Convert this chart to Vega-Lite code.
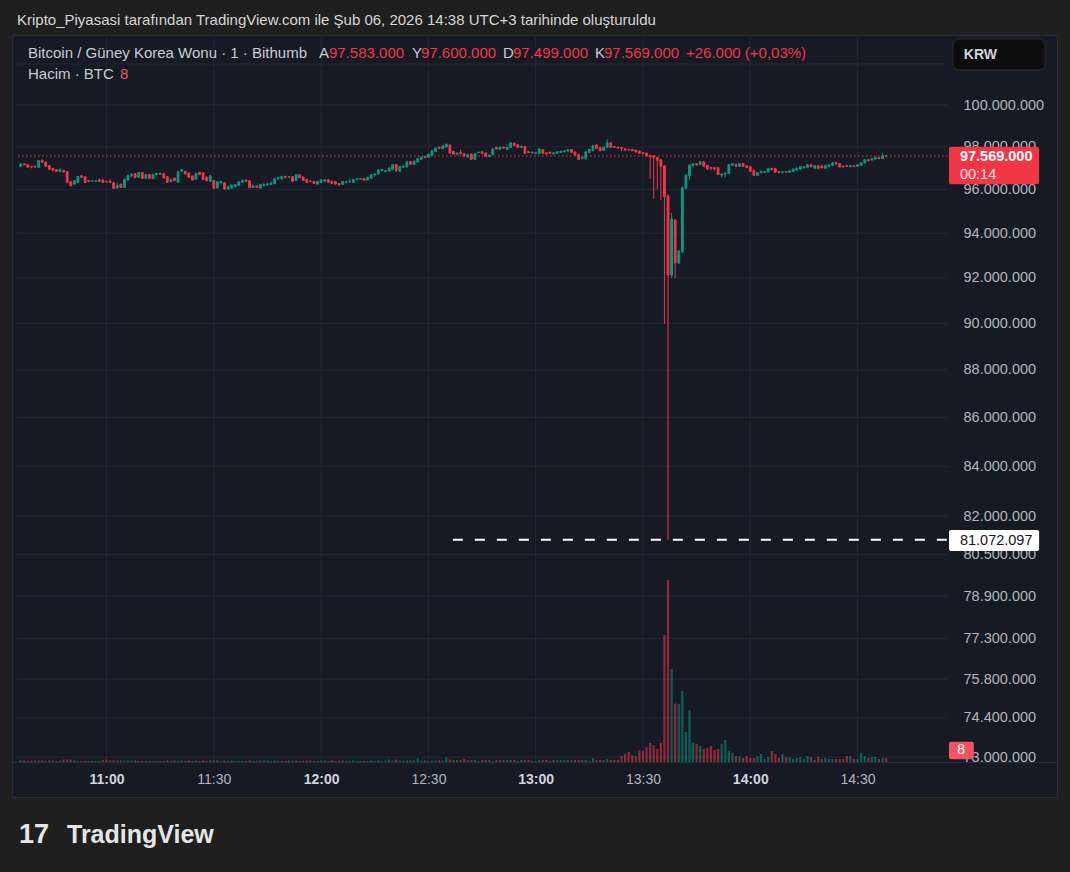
{
"$schema": "https://vega.github.io/schema/vega-lite/v6.json",
"width": 1045,
"height": 762,
"autosize": {"type": "none"},
"padding": {"left": 12, "top": 35, "right": 13, "bottom": 75},
"background": "#1f1f1f",
"config": {"view": {"fill": "#161a25", "stroke": "#2a2e39", "strokeWidth": 1}, "font": "Liberation Sans"},
"datasets": {
"ygrid": [{"p": 73000000}, {"p": 74400000}, {"p": 75800000}, {"p": 77300000}, {"p": 78900000}, {"p": 80500000}, {"p": 82000000}, {"p": 84000000}, {"p": 86000000}, {"p": 88000000}, {"p": 90000000}, {"p": 92000000}, {"p": 94000000}, {"p": 96000000}, {"p": 98000000}, {"p": 100000000}, {"p": 102000000}],
"xgrid": [{"t": "2026-02-06T11:00"}, {"t": "2026-02-06T11:30"}, {"t": "2026-02-06T12:00"}, {"t": "2026-02-06T12:30"}, {"t": "2026-02-06T13:00"}, {"t": "2026-02-06T13:30"}, {"t": "2026-02-06T14:00"}, {"t": "2026-02-06T14:30"}],
"candles": [
{"t":"2026-02-06T10:36","o":97084000,"h":97224000,"l":97068000,"c":97193000,"v":3},
{"t":"2026-02-06T10:37","o":97193000,"h":97224000,"l":97131000,"c":97146000,"v":3},
{"t":"2026-02-06T10:38","o":97162000,"h":97178000,"l":97022000,"c":97037000,"v":3},
{"t":"2026-02-06T10:39","o":97084000,"h":97100000,"l":96990000,"c":97053000,"v":3},
{"t":"2026-02-06T10:40","o":97100000,"h":97115000,"l":96990000,"c":97068000,"v":3},
{"t":"2026-02-06T10:41","o":97037000,"h":97365000,"l":97022000,"c":97349000,"v":3},
{"t":"2026-02-06T10:42","o":97365000,"h":97412000,"l":97256000,"c":97271000,"v":3},
{"t":"2026-02-06T10:43","o":97287000,"h":97302000,"l":97068000,"c":97084000,"v":2},
{"t":"2026-02-06T10:44","o":97115000,"h":97131000,"l":96928000,"c":96944000,"v":3},
{"t":"2026-02-06T10:45","o":96990000,"h":97006000,"l":96881000,"c":96897000,"v":3},
{"t":"2026-02-06T10:46","o":96928000,"h":96944000,"l":96834000,"c":96850000,"v":2},
{"t":"2026-02-06T10:47","o":96850000,"h":96959000,"l":96834000,"c":96944000,"v":3},
{"t":"2026-02-06T10:48","o":96897000,"h":96928000,"l":96803000,"c":96819000,"v":5},
{"t":"2026-02-06T10:49","o":96834000,"h":96850000,"l":96320000,"c":96335000,"v":5},
{"t":"2026-02-06T10:50","o":96366000,"h":96382000,"l":96148000,"c":96179000,"v":5},
{"t":"2026-02-06T10:51","o":96257000,"h":96429000,"l":96242000,"c":96413000,"v":3},
{"t":"2026-02-06T10:52","o":96335000,"h":96632000,"l":96320000,"c":96616000,"v":2},
{"t":"2026-02-06T10:53","o":96647000,"h":96663000,"l":96554000,"c":96569000,"v":2},
{"t":"2026-02-06T10:54","o":96600000,"h":96616000,"l":96320000,"c":96335000,"v":2},
{"t":"2026-02-06T10:55","o":96429000,"h":96444000,"l":96366000,"c":96382000,"v":2},
{"t":"2026-02-06T10:56","o":96382000,"h":96429000,"l":96366000,"c":96413000,"v":2},
{"t":"2026-02-06T10:57","o":96382000,"h":96444000,"l":96366000,"c":96413000,"v":2},
{"t":"2026-02-06T10:58","o":96444000,"h":96507000,"l":96366000,"c":96382000,"v":2},
{"t":"2026-02-06T10:59","o":96429000,"h":96507000,"l":96320000,"c":96335000,"v":4},
{"t":"2026-02-06T11:00","o":96382000,"h":96398000,"l":96335000,"c":96351000,"v":5},
{"t":"2026-02-06T11:01","o":96382000,"h":96476000,"l":96320000,"c":96335000,"v":3},
{"t":"2026-02-06T11:02","o":96320000,"h":96335000,"l":96039000,"c":96054000,"v":3},
{"t":"2026-02-06T11:03","o":96070000,"h":96335000,"l":96054000,"c":96179000,"v":3},
{"t":"2026-02-06T11:04","o":96257000,"h":96273000,"l":96086000,"c":96101000,"v":3},
{"t":"2026-02-06T11:05","o":96101000,"h":96491000,"l":96086000,"c":96476000,"v":3},
{"t":"2026-02-06T11:06","o":96444000,"h":96663000,"l":96429000,"c":96647000,"v":3},
{"t":"2026-02-06T11:07","o":96647000,"h":96756000,"l":96569000,"c":96710000,"v":3},
{"t":"2026-02-06T11:08","o":96741000,"h":96756000,"l":96538000,"c":96554000,"v":3},
{"t":"2026-02-06T11:09","o":96569000,"h":96819000,"l":96554000,"c":96803000,"v":2},
{"t":"2026-02-06T11:10","o":96803000,"h":96819000,"l":96507000,"c":96522000,"v":2},
{"t":"2026-02-06T11:11","o":96522000,"h":96710000,"l":96507000,"c":96694000,"v":2},
{"t":"2026-02-06T11:12","o":96694000,"h":96710000,"l":96507000,"c":96522000,"v":2},
{"t":"2026-02-06T11:13","o":96522000,"h":96725000,"l":96507000,"c":96710000,"v":2},
{"t":"2026-02-06T11:14","o":96694000,"h":96772000,"l":96678000,"c":96756000,"v":2},
{"t":"2026-02-06T11:15","o":96710000,"h":96788000,"l":96694000,"c":96756000,"v":2},
{"t":"2026-02-06T11:16","o":96741000,"h":96756000,"l":96522000,"c":96538000,"v":2},
{"t":"2026-02-06T11:17","o":96600000,"h":96616000,"l":96320000,"c":96335000,"v":3},
{"t":"2026-02-06T11:18","o":96382000,"h":96538000,"l":96335000,"c":96460000,"v":2},
{"t":"2026-02-06T11:19","o":96538000,"h":96554000,"l":96398000,"c":96413000,"v":3},
{"t":"2026-02-06T11:20","o":96335000,"h":96850000,"l":96320000,"c":96834000,"v":2},
{"t":"2026-02-06T11:21","o":96850000,"h":96944000,"l":96834000,"c":96928000,"v":3},
{"t":"2026-02-06T11:22","o":96850000,"h":96866000,"l":96710000,"c":96725000,"v":2},
{"t":"2026-02-06T11:23","o":96772000,"h":96788000,"l":96554000,"c":96569000,"v":3},
{"t":"2026-02-06T11:24","o":96632000,"h":96647000,"l":96429000,"c":96444000,"v":2},
{"t":"2026-02-06T11:25","o":96476000,"h":96772000,"l":96460000,"c":96756000,"v":3},
{"t":"2026-02-06T11:26","o":96803000,"h":96819000,"l":96678000,"c":96694000,"v":2},
{"t":"2026-02-06T11:27","o":96788000,"h":96803000,"l":96460000,"c":96476000,"v":3},
{"t":"2026-02-06T11:28","o":96585000,"h":96600000,"l":96398000,"c":96413000,"v":2},
{"t":"2026-02-06T11:29","o":96382000,"h":96663000,"l":96366000,"c":96647000,"v":3},
{"t":"2026-02-06T11:30","o":96429000,"h":96444000,"l":96039000,"c":96054000,"v":3},
{"t":"2026-02-06T11:31","o":96070000,"h":96382000,"l":96054000,"c":96366000,"v":3},
{"t":"2026-02-06T11:32","o":96304000,"h":96398000,"l":96288000,"c":96382000,"v":2},
{"t":"2026-02-06T11:33","o":96320000,"h":96335000,"l":96008000,"c":96023000,"v":3},
{"t":"2026-02-06T11:34","o":96023000,"h":96148000,"l":96008000,"c":96132000,"v":3},
{"t":"2026-02-06T11:35","o":96070000,"h":96226000,"l":96054000,"c":96210000,"v":3},
{"t":"2026-02-06T11:36","o":96132000,"h":96242000,"l":96117000,"c":96226000,"v":2},
{"t":"2026-02-06T11:37","o":96195000,"h":96382000,"l":96179000,"c":96366000,"v":2},
{"t":"2026-02-06T11:38","o":96335000,"h":96491000,"l":96320000,"c":96413000,"v":2},
{"t":"2026-02-06T11:39","o":96444000,"h":96460000,"l":96366000,"c":96382000,"v":2},
{"t":"2026-02-06T11:40","o":96413000,"h":96429000,"l":96070000,"c":96086000,"v":3},
{"t":"2026-02-06T11:41","o":96101000,"h":96195000,"l":96086000,"c":96179000,"v":2},
{"t":"2026-02-06T11:42","o":96164000,"h":96179000,"l":96086000,"c":96101000,"v":2},
{"t":"2026-02-06T11:43","o":96070000,"h":96257000,"l":96054000,"c":96242000,"v":3},
{"t":"2026-02-06T11:44","o":96179000,"h":96304000,"l":96164000,"c":96226000,"v":3},
{"t":"2026-02-06T11:45","o":96210000,"h":96288000,"l":96195000,"c":96273000,"v":3},
{"t":"2026-02-06T11:46","o":96242000,"h":96366000,"l":96226000,"c":96304000,"v":2},
{"t":"2026-02-06T11:47","o":96273000,"h":96522000,"l":96257000,"c":96507000,"v":3},
{"t":"2026-02-06T11:48","o":96491000,"h":96569000,"l":96476000,"c":96554000,"v":2},
{"t":"2026-02-06T11:49","o":96491000,"h":96632000,"l":96476000,"c":96616000,"v":2},
{"t":"2026-02-06T11:50","o":96616000,"h":96632000,"l":96522000,"c":96569000,"v":2},
{"t":"2026-02-06T11:51","o":96569000,"h":96616000,"l":96554000,"c":96600000,"v":3},
{"t":"2026-02-06T11:52","o":96600000,"h":96616000,"l":96366000,"c":96382000,"v":3},
{"t":"2026-02-06T11:53","o":96429000,"h":96710000,"l":96413000,"c":96694000,"v":3},
{"t":"2026-02-06T11:54","o":96694000,"h":96710000,"l":96538000,"c":96554000,"v":2},
{"t":"2026-02-06T11:55","o":96585000,"h":96600000,"l":96413000,"c":96429000,"v":2},
{"t":"2026-02-06T11:56","o":96476000,"h":96491000,"l":96320000,"c":96335000,"v":3},
{"t":"2026-02-06T11:57","o":96398000,"h":96413000,"l":96351000,"c":96366000,"v":3},
{"t":"2026-02-06T11:58","o":96382000,"h":96398000,"l":96273000,"c":96288000,"v":2},
{"t":"2026-02-06T11:59","o":96257000,"h":96398000,"l":96242000,"c":96382000,"v":2},
{"t":"2026-02-06T12:00","o":96335000,"h":96476000,"l":96320000,"c":96460000,"v":3},
{"t":"2026-02-06T12:01","o":96382000,"h":96476000,"l":96366000,"c":96460000,"v":3},
{"t":"2026-02-06T12:02","o":96460000,"h":96476000,"l":96320000,"c":96335000,"v":2},
{"t":"2026-02-06T12:03","o":96382000,"h":96398000,"l":96273000,"c":96288000,"v":3},
{"t":"2026-02-06T12:04","o":96366000,"h":96382000,"l":96242000,"c":96257000,"v":2},
{"t":"2026-02-06T12:05","o":96288000,"h":96304000,"l":96179000,"c":96210000,"v":3},
{"t":"2026-02-06T12:06","o":96242000,"h":96398000,"l":96226000,"c":96382000,"v":3},
{"t":"2026-02-06T12:07","o":96335000,"h":96382000,"l":96273000,"c":96366000,"v":2},
{"t":"2026-02-06T12:08","o":96351000,"h":96507000,"l":96335000,"c":96382000,"v":2},
{"t":"2026-02-06T12:09","o":96335000,"h":96476000,"l":96320000,"c":96460000,"v":3},
{"t":"2026-02-06T12:10","o":96476000,"h":96522000,"l":96460000,"c":96507000,"v":2},
{"t":"2026-02-06T12:11","o":96476000,"h":96522000,"l":96460000,"c":96507000,"v":2},
{"t":"2026-02-06T12:12","o":96522000,"h":96538000,"l":96413000,"c":96429000,"v":2},
{"t":"2026-02-06T12:13","o":96444000,"h":96585000,"l":96429000,"c":96569000,"v":2},
{"t":"2026-02-06T12:14","o":96522000,"h":96710000,"l":96507000,"c":96694000,"v":3},
{"t":"2026-02-06T12:15","o":96678000,"h":96741000,"l":96585000,"c":96725000,"v":2},
{"t":"2026-02-06T12:16","o":96725000,"h":96928000,"l":96710000,"c":96912000,"v":3},
{"t":"2026-02-06T12:17","o":96881000,"h":96959000,"l":96866000,"c":96944000,"v":2},
{"t":"2026-02-06T12:18","o":96834000,"h":96897000,"l":96819000,"c":96881000,"v":3},
{"t":"2026-02-06T12:19","o":96866000,"h":97022000,"l":96850000,"c":97006000,"v":5},
{"t":"2026-02-06T12:20","o":96944000,"h":97178000,"l":96928000,"c":97162000,"v":3},
{"t":"2026-02-06T12:21","o":97162000,"h":97178000,"l":96819000,"c":96897000,"v":5},
{"t":"2026-02-06T12:22","o":96850000,"h":97084000,"l":96834000,"c":97068000,"v":3},
{"t":"2026-02-06T12:23","o":97037000,"h":97115000,"l":97022000,"c":97100000,"v":3},
{"t":"2026-02-06T12:24","o":97053000,"h":97318000,"l":97037000,"c":97302000,"v":3},
{"t":"2026-02-06T12:25","o":97302000,"h":97318000,"l":97162000,"c":97178000,"v":3},
{"t":"2026-02-06T12:26","o":97178000,"h":97349000,"l":97162000,"c":97334000,"v":3},
{"t":"2026-02-06T12:27","o":97287000,"h":97458000,"l":97271000,"c":97443000,"v":7},
{"t":"2026-02-06T12:28","o":97412000,"h":97536000,"l":97396000,"c":97521000,"v":3},
{"t":"2026-02-06T12:29","o":97552000,"h":97568000,"l":97458000,"c":97505000,"v":3},
{"t":"2026-02-06T12:30","o":97505000,"h":97661000,"l":97490000,"c":97646000,"v":2},
{"t":"2026-02-06T12:31","o":97599000,"h":97833000,"l":97583000,"c":97817000,"v":3},
{"t":"2026-02-06T12:32","o":97786000,"h":97958000,"l":97770000,"c":97942000,"v":3},
{"t":"2026-02-06T12:33","o":97989000,"h":98004000,"l":97911000,"c":97926000,"v":3},
{"t":"2026-02-06T12:34","o":97911000,"h":98067000,"l":97895000,"c":98051000,"v":3},
{"t":"2026-02-06T12:35","o":97989000,"h":98145000,"l":97973000,"c":98129000,"v":9},
{"t":"2026-02-06T12:36","o":98082000,"h":98129000,"l":97692000,"c":97708000,"v":5},
{"t":"2026-02-06T12:37","o":97786000,"h":97802000,"l":97646000,"c":97661000,"v":4},
{"t":"2026-02-06T12:38","o":97661000,"h":97724000,"l":97599000,"c":97708000,"v":4},
{"t":"2026-02-06T12:39","o":97739000,"h":97864000,"l":97599000,"c":97692000,"v":4},
{"t":"2026-02-06T12:40","o":97677000,"h":97692000,"l":97505000,"c":97599000,"v":6},
{"t":"2026-02-06T12:41","o":97536000,"h":97646000,"l":97474000,"c":97630000,"v":4},
{"t":"2026-02-06T12:42","o":97661000,"h":97677000,"l":97396000,"c":97412000,"v":4},
{"t":"2026-02-06T12:43","o":97412000,"h":97692000,"l":97396000,"c":97677000,"v":4},
{"t":"2026-02-06T12:44","o":97724000,"h":97770000,"l":97708000,"c":97755000,"v":2},
{"t":"2026-02-06T12:45","o":97770000,"h":97786000,"l":97677000,"c":97692000,"v":4},
{"t":"2026-02-06T12:46","o":97708000,"h":97724000,"l":97536000,"c":97552000,"v":4},
{"t":"2026-02-06T12:47","o":97552000,"h":97630000,"l":97505000,"c":97614000,"v":4},
{"t":"2026-02-06T12:48","o":97630000,"h":97926000,"l":97614000,"c":97911000,"v":2},
{"t":"2026-02-06T12:49","o":97973000,"h":98020000,"l":97880000,"c":97895000,"v":4},
{"t":"2026-02-06T12:50","o":97880000,"h":98004000,"l":97864000,"c":97989000,"v":4},
{"t":"2026-02-06T12:51","o":97989000,"h":98004000,"l":97926000,"c":97942000,"v":4},
{"t":"2026-02-06T12:52","o":97880000,"h":98004000,"l":97864000,"c":97989000,"v":4},
{"t":"2026-02-06T12:53","o":97973000,"h":98207000,"l":97958000,"c":98192000,"v":4},
{"t":"2026-02-06T12:54","o":98176000,"h":98192000,"l":98051000,"c":98067000,"v":4},
{"t":"2026-02-06T12:55","o":98098000,"h":98114000,"l":97958000,"c":97973000,"v":2},
{"t":"2026-02-06T12:56","o":97973000,"h":98051000,"l":97958000,"c":98036000,"v":4},
{"t":"2026-02-06T12:57","o":98020000,"h":98036000,"l":97677000,"c":97692000,"v":4},
{"t":"2026-02-06T12:58","o":97770000,"h":97786000,"l":97724000,"c":97739000,"v":4},
{"t":"2026-02-06T12:59","o":97708000,"h":97786000,"l":97692000,"c":97739000,"v":2},
{"t":"2026-02-06T13:00","o":97692000,"h":97755000,"l":97677000,"c":97739000,"v":2},
{"t":"2026-02-06T13:01","o":97692000,"h":97926000,"l":97677000,"c":97911000,"v":4},
{"t":"2026-02-06T13:02","o":97880000,"h":97895000,"l":97677000,"c":97692000,"v":4},
{"t":"2026-02-06T13:03","o":97724000,"h":97739000,"l":97614000,"c":97677000,"v":4},
{"t":"2026-02-06T13:04","o":97755000,"h":97770000,"l":97677000,"c":97692000,"v":2},
{"t":"2026-02-06T13:05","o":97661000,"h":97739000,"l":97646000,"c":97724000,"v":4},
{"t":"2026-02-06T13:06","o":97692000,"h":97786000,"l":97677000,"c":97770000,"v":4},
{"t":"2026-02-06T13:07","o":97739000,"h":97817000,"l":97724000,"c":97802000,"v":4},
{"t":"2026-02-06T13:08","o":97770000,"h":97833000,"l":97739000,"c":97817000,"v":4},
{"t":"2026-02-06T13:09","o":97802000,"h":97880000,"l":97786000,"c":97864000,"v":4},
{"t":"2026-02-06T13:10","o":97880000,"h":97895000,"l":97724000,"c":97739000,"v":4},
{"t":"2026-02-06T13:11","o":97755000,"h":97770000,"l":97599000,"c":97614000,"v":4},
{"t":"2026-02-06T13:12","o":97630000,"h":97646000,"l":97396000,"c":97412000,"v":4},
{"t":"2026-02-06T13:13","o":97443000,"h":97536000,"l":97412000,"c":97521000,"v":4},
{"t":"2026-02-06T13:14","o":97443000,"h":97786000,"l":97427000,"c":97770000,"v":4},
{"t":"2026-02-06T13:15","o":97739000,"h":97895000,"l":97724000,"c":97880000,"v":2},
{"t":"2026-02-06T13:16","o":97817000,"h":98082000,"l":97802000,"c":98067000,"v":8},
{"t":"2026-02-06T13:17","o":98082000,"h":98129000,"l":97911000,"c":97926000,"v":4},
{"t":"2026-02-06T13:18","o":97973000,"h":97989000,"l":97802000,"c":97817000,"v":4},
{"t":"2026-02-06T13:19","o":97833000,"h":98004000,"l":97817000,"c":97989000,"v":4},
{"t":"2026-02-06T13:20","o":97973000,"h":98348000,"l":97958000,"c":98192000,"v":6},
{"t":"2026-02-06T13:21","o":98192000,"h":98207000,"l":97958000,"c":97973000,"v":4},
{"t":"2026-02-06T13:22","o":98020000,"h":98036000,"l":97958000,"c":97973000,"v":4},
{"t":"2026-02-06T13:23","o":97989000,"h":98004000,"l":97926000,"c":97942000,"v":4},
{"t":"2026-02-06T13:24","o":97973000,"h":97989000,"l":97802000,"c":97926000,"v":12},
{"t":"2026-02-06T13:25","o":97911000,"h":97926000,"l":97786000,"c":97864000,"v":16},
{"t":"2026-02-06T13:26","o":97880000,"h":97895000,"l":97833000,"c":97848000,"v":20},
{"t":"2026-02-06T13:27","o":97880000,"h":97911000,"l":97802000,"c":97817000,"v":14},
{"t":"2026-02-06T13:28","o":97848000,"h":97864000,"l":97739000,"c":97755000,"v":12},
{"t":"2026-02-06T13:29","o":97802000,"h":97817000,"l":97677000,"c":97692000,"v":24},
{"t":"2026-02-06T13:30","o":97724000,"h":97739000,"l":97661000,"c":97677000,"v":22},
{"t":"2026-02-06T13:31","o":97708000,"h":97724000,"l":97552000,"c":97568000,"v":30},
{"t":"2026-02-06T13:32","o":97599000,"h":97614000,"l":96490000,"c":97521000,"v":38},
{"t":"2026-02-06T13:33","o":97583000,"h":97599000,"l":95560000,"c":97490000,"v":34},
{"t":"2026-02-06T13:34","o":97505000,"h":97521000,"l":96010000,"c":97365000,"v":26},
{"t":"2026-02-06T13:35","o":97396000,"h":97412000,"l":95520000,"c":97084000,"v":38},
{"t":"2026-02-06T13:36","o":97100000,"h":97150000,"l":89980000,"c":95670000,"v":254},
{"t":"2026-02-06T13:37","o":95700000,"h":95800000,"l":81072097,"c":92120000,"v":364},
{"t":"2026-02-06T13:38","o":92120000,"h":94930000,"l":91980000,"c":94650000,"v":186},
{"t":"2026-02-06T13:39","o":94600000,"h":94650000,"l":92000000,"c":92660000,"v":117},
{"t":"2026-02-06T13:40","o":92660000,"h":93250000,"l":92600000,"c":93200000,"v":116},
{"t":"2026-02-06T13:41","o":93170000,"h":96150000,"l":93100000,"c":96090000,"v":142},
{"t":"2026-02-06T13:42","o":96060000,"h":96700000,"l":96010000,"c":96680000,"v":60},
{"t":"2026-02-06T13:43","o":96650000,"h":97180000,"l":96450000,"c":97150000,"v":104},
{"t":"2026-02-06T13:44","o":97115000,"h":97224000,"l":97037000,"c":97209000,"v":38},
{"t":"2026-02-06T13:45","o":97209000,"h":97224000,"l":97100000,"c":97162000,"v":36},
{"t":"2026-02-06T13:46","o":97162000,"h":97318000,"l":97146000,"c":97302000,"v":32},
{"t":"2026-02-06T13:47","o":97302000,"h":97318000,"l":97068000,"c":97084000,"v":26},
{"t":"2026-02-06T13:48","o":97131000,"h":97146000,"l":96912000,"c":96959000,"v":28},
{"t":"2026-02-06T13:49","o":97037000,"h":97053000,"l":96897000,"c":96990000,"v":32},
{"t":"2026-02-06T13:50","o":97022000,"h":97037000,"l":96881000,"c":96975000,"v":24},
{"t":"2026-02-06T13:51","o":97022000,"h":97037000,"l":96678000,"c":96694000,"v":26},
{"t":"2026-02-06T13:52","o":96678000,"h":96741000,"l":96569000,"c":96725000,"v":36},
{"t":"2026-02-06T13:53","o":96725000,"h":96788000,"l":96569000,"c":96772000,"v":44},
{"t":"2026-02-06T13:54","o":96756000,"h":97178000,"l":96741000,"c":97162000,"v":22},
{"t":"2026-02-06T13:55","o":97131000,"h":97224000,"l":97115000,"c":97209000,"v":18},
{"t":"2026-02-06T13:56","o":97162000,"h":97224000,"l":97068000,"c":97084000,"v":12},
{"t":"2026-02-06T13:57","o":97084000,"h":97224000,"l":97068000,"c":97209000,"v":12},
{"t":"2026-02-06T13:58","o":97209000,"h":97224000,"l":97068000,"c":97084000,"v":8},
{"t":"2026-02-06T13:59","o":97115000,"h":97131000,"l":97006000,"c":97022000,"v":12},
{"t":"2026-02-06T14:00","o":97068000,"h":97084000,"l":96834000,"c":96850000,"v":8},
{"t":"2026-02-06T14:01","o":96897000,"h":96912000,"l":96647000,"c":96663000,"v":8},
{"t":"2026-02-06T14:02","o":96663000,"h":96803000,"l":96647000,"c":96788000,"v":12},
{"t":"2026-02-06T14:03","o":96788000,"h":96881000,"l":96772000,"c":96850000,"v":16},
{"t":"2026-02-06T14:04","o":96788000,"h":96850000,"l":96772000,"c":96834000,"v":6},
{"t":"2026-02-06T14:05","o":96819000,"h":97006000,"l":96803000,"c":96990000,"v":10},
{"t":"2026-02-06T14:06","o":96990000,"h":97006000,"l":96897000,"c":96928000,"v":22},
{"t":"2026-02-06T14:07","o":96975000,"h":96990000,"l":96788000,"c":96803000,"v":16},
{"t":"2026-02-06T14:08","o":96834000,"h":96850000,"l":96756000,"c":96803000,"v":8},
{"t":"2026-02-06T14:09","o":96803000,"h":96850000,"l":96741000,"c":96834000,"v":16},
{"t":"2026-02-06T14:10","o":96834000,"h":96850000,"l":96788000,"c":96803000,"v":10},
{"t":"2026-02-06T14:11","o":96803000,"h":96897000,"l":96788000,"c":96881000,"v":10},
{"t":"2026-02-06T14:12","o":96850000,"h":96975000,"l":96834000,"c":96959000,"v":6},
{"t":"2026-02-06T14:13","o":96912000,"h":97022000,"l":96866000,"c":97006000,"v":8},
{"t":"2026-02-06T14:14","o":96959000,"h":97084000,"l":96944000,"c":97068000,"v":10},
{"t":"2026-02-06T14:15","o":97006000,"h":97084000,"l":96990000,"c":97068000,"v":6},
{"t":"2026-02-06T14:16","o":97037000,"h":97178000,"l":97022000,"c":97162000,"v":12},
{"t":"2026-02-06T14:17","o":97162000,"h":97209000,"l":97053000,"c":97068000,"v":10},
{"t":"2026-02-06T14:18","o":96990000,"h":97131000,"l":96975000,"c":97115000,"v":4},
{"t":"2026-02-06T14:19","o":97115000,"h":97131000,"l":96975000,"c":96990000,"v":10},
{"t":"2026-02-06T14:20","o":97100000,"h":97162000,"l":96990000,"c":97006000,"v":6},
{"t":"2026-02-06T14:21","o":96990000,"h":97146000,"l":96975000,"c":97131000,"v":8},
{"t":"2026-02-06T14:22","o":97068000,"h":97178000,"l":97053000,"c":97162000,"v":6},
{"t":"2026-02-06T14:23","o":97131000,"h":97271000,"l":97115000,"c":97256000,"v":6},
{"t":"2026-02-06T14:24","o":97256000,"h":97271000,"l":97178000,"c":97193000,"v":6},
{"t":"2026-02-06T14:25","o":97209000,"h":97224000,"l":97037000,"c":97053000,"v":6},
{"t":"2026-02-06T14:26","o":97100000,"h":97115000,"l":97037000,"c":97053000,"v":6},
{"t":"2026-02-06T14:27","o":97115000,"h":97131000,"l":97068000,"c":97084000,"v":12},
{"t":"2026-02-06T14:28","o":97068000,"h":97131000,"l":97053000,"c":97115000,"v":12},
{"t":"2026-02-06T14:29","o":97115000,"h":97131000,"l":97068000,"c":97084000,"v":6},
{"t":"2026-02-06T14:30","o":97084000,"h":97178000,"l":97068000,"c":97162000,"v":6},
{"t":"2026-02-06T14:31","o":97131000,"h":97271000,"l":97115000,"c":97256000,"v":18},
{"t":"2026-02-06T14:32","o":97240000,"h":97412000,"l":97224000,"c":97396000,"v":12},
{"t":"2026-02-06T14:33","o":97396000,"h":97412000,"l":97318000,"c":97349000,"v":8},
{"t":"2026-02-06T14:34","o":97380000,"h":97458000,"l":97349000,"c":97443000,"v":10},
{"t":"2026-02-06T14:35","o":97427000,"h":97536000,"l":97412000,"c":97505000,"v":10},
{"t":"2026-02-06T14:36","o":97490000,"h":97505000,"l":97427000,"c":97443000,"v":6},
{"t":"2026-02-06T14:37","o":97443000,"h":97724000,"l":97427000,"c":97583000,"v":8},
{"t":"2026-02-06T14:38","o":97583000,"h":97600000,"l":97499000,"c":97569000,"v":8}
]
},
"layer": [
{
"layer": [
{"data": {"name": "xgrid"}, "mark": {"type": "rule", "color": "#242834", "strokeWidth": 1},
 "encoding": {
  "x": {"field": "t", "type": "temporal", "scale": {"nice": false, "domain": [{"year": 2026, "month": 2, "date": 6, "hours": 10, "minutes": 34, "seconds": 58}, {"year": 2026, "month": 2, "date": 6, "hours": 15, "minutes": 24, "seconds": 22}]}},
  "y": {"datum": 103436000, "type": "quantitative", "scale": {"type": "log", "domain": [71610000, 103436000], "nice": false}, "axis": null},
  "y2": {"datum": 72830000}}},
{"data": {"name": "ygrid"}, "mark": {"type": "rule", "color": "#242834", "strokeWidth": 1},
 "encoding": {
  "y": {"field": "p", "type": "quantitative", "axis": null},
  "x": {"datum": {"year": 2026, "month": 2, "date": 6, "hours": 10, "minutes": 34, "seconds": 58}, "type": "temporal"},
  "x2": {"datum": {"year": 2026, "month": 2, "date": 6, "hours": 14, "minutes": 55, "seconds": 1}}}}
]
},
{
"data": {"name": "candles"},
"mark": {"type": "bar", "width": 2.2, "opacity": 0.55},
"encoding": {
 "x": {"field": "t", "type": "temporal"},
 "y": {"field": "v", "type": "quantitative", "scale": {"domain": [-70, 1454], "nice": false, "zero": false}, "axis": null},
 "y2": {"datum": 0},
 "color": {"condition": {"test": "datum.c >= datum.o", "value": "#089981"}, "value": "#f23645"}
}
},
{
"layer": [
{"data": {"name": "candles"}, "mark": {"type": "rule", "strokeWidth": 1},
 "encoding": {
  "x": {"field": "t", "type": "temporal",
   "scale": {"nice": false, "domain": [{"year": 2026, "month": 2, "date": 6, "hours": 10, "minutes": 34, "seconds": 58}, {"year": 2026, "month": 2, "date": 6, "hours": 15, "minutes": 24, "seconds": 22}]},
   "axis": {"orient": "bottom", "offset": -35, "title": "", "format": "%H:%M", "formatType": "time",
    "values": [
     {"year": 2026, "month": 2, "date": 6, "hours": 11, "minutes": 0},
     {"year": 2026, "month": 2, "date": 6, "hours": 11, "minutes": 30},
     {"year": 2026, "month": 2, "date": 6, "hours": 12, "minutes": 0},
     {"year": 2026, "month": 2, "date": 6, "hours": 12, "minutes": 30},
     {"year": 2026, "month": 2, "date": 6, "hours": 13, "minutes": 0},
     {"year": 2026, "month": 2, "date": 6, "hours": 13, "minutes": 30},
     {"year": 2026, "month": 2, "date": 6, "hours": 14, "minutes": 0},
     {"year": 2026, "month": 2, "date": 6, "hours": 14, "minutes": 30}],
    "grid": false, "ticks": false, "domain": true, "domainColor": "#2a2e39", "labelFontSize": 14, "labelPadding": 10, "labelFlush": false, "labelOverlap": false,
    "labelColor": {"condition": {"test": "minutes(datum.value) === 0", "value": "#d1d4dc"}, "value": "#b2b5be"},
    "labelFontWeight": {"condition": {"test": "minutes(datum.value) === 0", "value": "bold"}, "value": "normal"}}},
  "y": {"field": "l", "type": "quantitative", "scale": {"type": "log", "domain": [71610000, 103436000], "nice": false},
   "axis": {"orient": "right", "offset": -106, "title": "", "grid": false, "ticks": false, "domain": false,
    "values": [73000000, 74400000, 75800000, 77300000, 78900000, 80500000, 82000000, 84000000, 86000000, 88000000, 90000000, 92000000, 94000000, 96000000, 98000000, 100000000],
    "labelExpr": "replace(format(datum.value, ',.0f'), regexp(',', 'g'), '.')",
    "labelColor": "#b2b5be", "labelFontSize": 14.5, "labelPadding": 12, "labelOverlap": false, "labelFlush": false}},
  "y2": {"field": "h"},
  "color": {"condition": {"test": "datum.c >= datum.o", "value": "#089981"}, "value": "#f23645"}}},
{"data": {"name": "candles"}, "mark": {"type": "bar", "width": 1.8, "strokeWidth": 1},
 "encoding": {
  "x": {"field": "t", "type": "temporal"},
  "y": {"field": "o", "type": "quantitative"},
  "y2": {"field": "c"},
  "color": {"condition": {"test": "datum.c >= datum.o", "value": "#089981"}, "value": "#f23645"},
  "stroke": {"condition": {"test": "datum.c >= datum.o", "value": "#089981"}, "value": "#f23645"}}},
{"data": {"values": [{}]}, "mark": {"type": "rule", "color": "#f23645", "strokeWidth": 1, "strokeDash": [1.5, 2.5]},
 "encoding": {
  "x": {"datum": {"year": 2026, "month": 2, "date": 6, "hours": 10, "minutes": 35, "seconds": 15}, "type": "temporal"},
  "x2": {"datum": {"year": 2026, "month": 2, "date": 6, "hours": 14, "minutes": 55, "seconds": 34}},
  "y": {"datum": 97569000, "type": "quantitative"}}},
{"data": {"values": [{}]}, "mark": {"type": "rule", "color": "#ffffff", "strokeWidth": 2, "strokeDash": [10, 12]},
 "encoding": {
  "x": {"datum": {"year": 2026, "month": 2, "date": 6, "hours": 12, "minutes": 36, "seconds": 50}, "type": "temporal"},
  "x2": {"datum": {"year": 2026, "month": 2, "date": 6, "hours": 14, "minutes": 55, "seconds": 1}},
  "y": {"datum": 81072097, "type": "quantitative"}}},
{"data": {"values": [{}]}, "mark": {"type": "rect", "fill": "#0c0c0c", "stroke": "#2e2e2e", "strokeWidth": 1, "cornerRadius": 6},
 "encoding": {
  "x": {"datum": {"year": 2026, "month": 2, "date": 6, "hours": 14, "minutes": 56, "seconds": 40}, "type": "temporal"},
  "x2": {"datum": {"year": 2026, "month": 2, "date": 6, "hours": 15, "minutes": 22, "seconds": 26}},
  "y": {"datum": 103237000, "type": "quantitative"},
  "y2": {"datum": 101704000}}},
{"data": {"values": [{}]}, "mark": {"type": "rect", "fill": "#f23645", "cornerRadius": 2},
 "encoding": {
  "x": {"datum": {"year": 2026, "month": 2, "date": 6, "hours": 14, "minutes": 55, "seconds": 34}, "type": "temporal"},
  "x2": {"datum": {"year": 2026, "month": 2, "date": 6, "hours": 15, "minutes": 20, "seconds": 46}},
  "y": {"datum": 98008000, "type": "quantitative"},
  "y2": {"datum": 96245000}}},
{"data": {"values": [{}]}, "mark": {"type": "rect", "fill": "#ffffff", "cornerRadius": 2},
 "encoding": {
  "x": {"datum": {"year": 2026, "month": 2, "date": 6, "hours": 14, "minutes": 55, "seconds": 34}, "type": "temporal"},
  "x2": {"datum": {"year": 2026, "month": 2, "date": 6, "hours": 15, "minutes": 20, "seconds": 46}},
  "y": {"datum": 81454000, "type": "quantitative"},
  "y2": {"datum": 80633000}}},
{"data": {"values": [{}]}, "mark": {"type": "rect", "fill": "#f7525f", "cornerRadius": 2},
 "encoding": {
  "x": {"datum": {"year": 2026, "month": 2, "date": 6, "hours": 14, "minutes": 55, "seconds": 34}, "type": "temporal"},
  "x2": {"datum": {"year": 2026, "month": 2, "date": 6, "hours": 15, "minutes": 2, "seconds": 30}},
  "y": {"datum": 73547000, "type": "quantitative"},
  "y2": {"datum": 72924000}}},
{"data": {"values": [{}]}, "mark": {"type": "text", "text": "KRW", "align": "left", "baseline": "middle", "fontSize": 14, "fontWeight": "bold", "color": "#d1d4dc"},
 "encoding": {
  "x": {"datum": {"year": 2026, "month": 2, "date": 6, "hours": 14, "minutes": 59, "seconds": 43}, "type": "temporal"},
  "y": {"datum": 102443000, "type": "quantitative"}}},
{"data": {"values": [{}]}, "mark": {"type": "text", "text": "97.569.000", "align": "left", "baseline": "middle", "fontSize": 14.5, "fontWeight": "bold", "color": "#ffffff"},
 "encoding": {
  "x": {"datum": {"year": 2026, "month": 2, "date": 6, "hours": 14, "minutes": 58, "seconds": 37}, "type": "temporal"},
  "y": {"datum": 97521000, "type": "quantitative"}}},
{"data": {"values": [{}]}, "mark": {"type": "text", "text": "00:14", "align": "left", "baseline": "middle", "fontSize": 14.5, "color": "#fbe3e5"},
 "encoding": {
  "x": {"datum": {"year": 2026, "month": 2, "date": 6, "hours": 14, "minutes": 58, "seconds": 37}, "type": "temporal"},
  "y": {"datum": 96678000, "type": "quantitative"}}},
{"data": {"values": [{}]}, "mark": {"type": "text", "text": "81.072.097", "align": "left", "baseline": "middle", "fontSize": 14.5, "color": "#131722"},
 "encoding": {
  "x": {"datum": {"year": 2026, "month": 2, "date": 6, "hours": 14, "minutes": 58, "seconds": 37}, "type": "temporal"},
  "y": {"datum": 81030000, "type": "quantitative"}}},
{"data": {"values": [{}]}, "mark": {"type": "text", "text": "8", "align": "center", "baseline": "middle", "fontSize": 14, "color": "#ffffff"},
 "encoding": {
  "x": {"datum": {"year": 2026, "month": 2, "date": 6, "hours": 14, "minutes": 58, "seconds": 57}, "type": "temporal"},
  "y": {"datum": 73252000, "type": "quantitative"}}},
{"data": {"values": [{}]}, "mark": {"type": "text", "text": "Kripto_Piyasasi tarafından TradingView.com ile Şub 06, 2026 14:38 UTC+3 tarihinde oluşturuldu", "align": "left", "baseline": "middle", "fontSize": 15, "color": "#d6d6d6"},
 "encoding": {
  "x": {"datum": {"year": 2026, "month": 2, "date": 6, "hours": 10, "minutes": 34, "seconds": 58}, "type": "temporal"},
  "y": {"datum": 104190000, "type": "quantitative"}}},
{"data": {"values": [{}]}, "mark": {"type": "text", "text": "Bitcoin / Güney Korea Wonu · 1 · Bithumb", "align": "left", "baseline": "middle", "fontSize": 15, "dx": 11, "color": "#c9cbd1"},
 "encoding": {
  "x": {"datum": {"year": 2026, "month": 2, "date": 6, "hours": 10, "minutes": 34, "seconds": 58}, "type": "temporal"},
  "y": {"datum": 102542000, "type": "quantitative"}}},
{"data": {"values": [{}]}, "mark": {"type": "text", "text": "A", "align": "left", "baseline": "middle", "fontSize": 15, "dx": 302, "color": "#c9cbd1"},
 "encoding": {
  "x": {"datum": {"year": 2026, "month": 2, "date": 6, "hours": 10, "minutes": 34, "seconds": 58}, "type": "temporal"},
  "y": {"datum": 102542000, "type": "quantitative"}}},
{"data": {"values": [{}]}, "mark": {"type": "text", "text": "97.583.000", "align": "left", "baseline": "middle", "fontSize": 15, "dx": 312, "color": "#f23645"},
 "encoding": {
  "x": {"datum": {"year": 2026, "month": 2, "date": 6, "hours": 10, "minutes": 34, "seconds": 58}, "type": "temporal"},
  "y": {"datum": 102542000, "type": "quantitative"}}},
{"data": {"values": [{}]}, "mark": {"type": "text", "text": "Y", "align": "left", "baseline": "middle", "fontSize": 15, "dx": 395, "color": "#c9cbd1"},
 "encoding": {
  "x": {"datum": {"year": 2026, "month": 2, "date": 6, "hours": 10, "minutes": 34, "seconds": 58}, "type": "temporal"},
  "y": {"datum": 102542000, "type": "quantitative"}}},
{"data": {"values": [{}]}, "mark": {"type": "text", "text": "97.600.000", "align": "left", "baseline": "middle", "fontSize": 15, "dx": 404, "color": "#f23645"},
 "encoding": {
  "x": {"datum": {"year": 2026, "month": 2, "date": 6, "hours": 10, "minutes": 34, "seconds": 58}, "type": "temporal"},
  "y": {"datum": 102542000, "type": "quantitative"}}},
{"data": {"values": [{}]}, "mark": {"type": "text", "text": "D", "align": "left", "baseline": "middle", "fontSize": 15, "dx": 486, "color": "#c9cbd1"},
 "encoding": {
  "x": {"datum": {"year": 2026, "month": 2, "date": 6, "hours": 10, "minutes": 34, "seconds": 58}, "type": "temporal"},
  "y": {"datum": 102542000, "type": "quantitative"}}},
{"data": {"values": [{}]}, "mark": {"type": "text", "text": "97.499.000", "align": "left", "baseline": "middle", "fontSize": 15, "dx": 496, "color": "#f23645"},
 "encoding": {
  "x": {"datum": {"year": 2026, "month": 2, "date": 6, "hours": 10, "minutes": 34, "seconds": 58}, "type": "temporal"},
  "y": {"datum": 102542000, "type": "quantitative"}}},
{"data": {"values": [{}]}, "mark": {"type": "text", "text": "K", "align": "left", "baseline": "middle", "fontSize": 15, "dx": 578, "color": "#c9cbd1"},
 "encoding": {
  "x": {"datum": {"year": 2026, "month": 2, "date": 6, "hours": 10, "minutes": 34, "seconds": 58}, "type": "temporal"},
  "y": {"datum": 102542000, "type": "quantitative"}}},
{"data": {"values": [{}]}, "mark": {"type": "text", "text": "97.569.000", "align": "left", "baseline": "middle", "fontSize": 15, "dx": 587, "color": "#f23645"},
 "encoding": {
  "x": {"datum": {"year": 2026, "month": 2, "date": 6, "hours": 10, "minutes": 34, "seconds": 58}, "type": "temporal"},
  "y": {"datum": 102542000, "type": "quantitative"}}},
{"data": {"values": [{}]}, "mark": {"type": "text", "text": "+26.000 (+0,03%)", "align": "left", "baseline": "middle", "fontSize": 15, "dx": 669, "color": "#f23645"},
 "encoding": {
  "x": {"datum": {"year": 2026, "month": 2, "date": 6, "hours": 10, "minutes": 34, "seconds": 58}, "type": "temporal"},
  "y": {"datum": 102542000, "type": "quantitative"}}},
{"data": {"values": [{}]}, "mark": {"type": "text", "text": "Hacim · BTC", "align": "left", "baseline": "middle", "fontSize": 15, "dx": 11, "color": "#c9cbd1"},
 "encoding": {
  "x": {"datum": {"year": 2026, "month": 2, "date": 6, "hours": 10, "minutes": 34, "seconds": 58}, "type": "temporal"},
  "y": {"datum": 101507000, "type": "quantitative"}}},
{"data": {"values": [{}]}, "mark": {"type": "text", "text": "8", "align": "left", "baseline": "middle", "fontSize": 15, "dx": 103, "color": "#f7525f"},
 "encoding": {
  "x": {"datum": {"year": 2026, "month": 2, "date": 6, "hours": 10, "minutes": 34, "seconds": 58}, "type": "temporal"},
  "y": {"datum": 101507000, "type": "quantitative"}}},
{"data": {"values": [{}]}, "mark": {"type": "text", "text": "17", "align": "left", "baseline": "middle", "fontSize": 27, "fontWeight": "bold", "dx": 2, "color": "#e6e6e6"},
 "encoding": {
  "x": {"datum": {"year": 2026, "month": 2, "date": 6, "hours": 10, "minutes": 34, "seconds": 58}, "type": "temporal"},
  "y": {"datum": 70308000, "type": "quantitative"}}},
{"data": {"values": [{}]}, "mark": {"type": "text", "text": "TradingView", "align": "left", "baseline": "middle", "fontSize": 25, "fontWeight": "bold", "dx": 50, "color": "#e6e6e6"},
 "encoding": {
  "x": {"datum": {"year": 2026, "month": 2, "date": 6, "hours": 10, "minutes": 34, "seconds": 58}, "type": "temporal"},
  "y": {"datum": 70308000, "type": "quantitative"}}}
]
}
],
"resolve": {"scale": {"y": "independent"}}
}
